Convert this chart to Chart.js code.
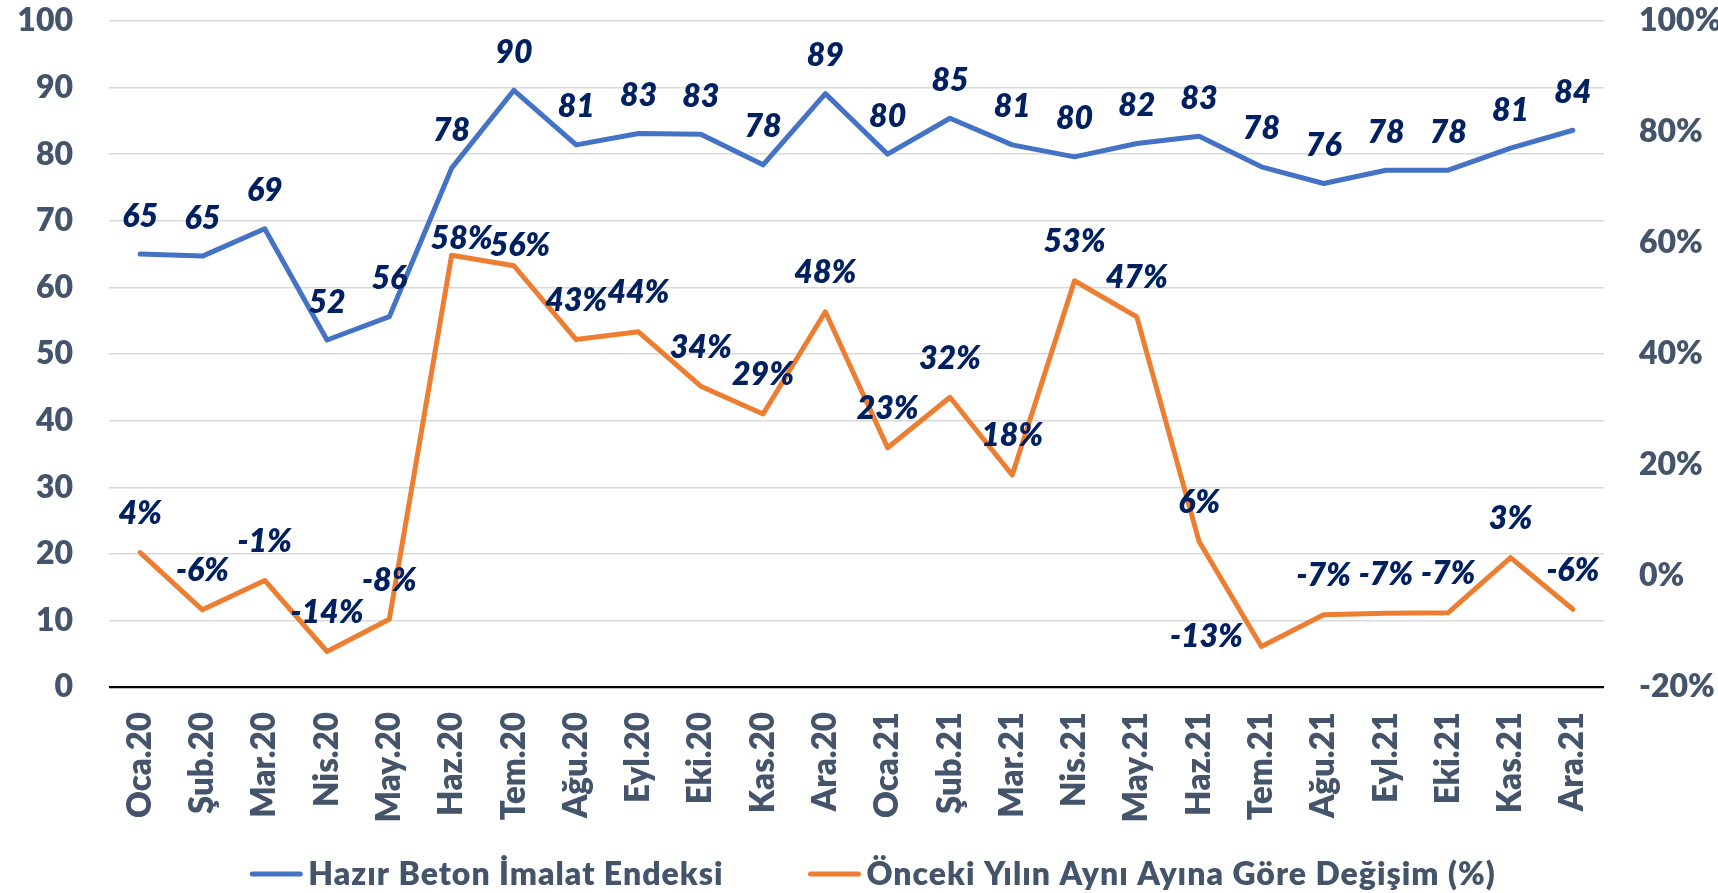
<!DOCTYPE html>
<html>
<head>
<meta charset="utf-8">
<script src="https://cdn.jsdelivr.net/npm/chart.js@4.4.1/dist/chart.umd.min.js"></script>
<style>
html,body{margin:0;padding:0;background:#ffffff;}
#wrap{width:1718px;height:893px;position:relative;}
</style>
</head>
<body>
<div id="wrap"><canvas id="c" width="1718" height="893"></canvas></div>
<script>
const categories = ['Oca.20','Şub.20','Mar.20','Nis.20','May.20','Haz.20','Tem.20','Ağu.20','Eyl.20','Eki.20','Kas.20','Ara.20',
                    'Oca.21','Şub.21','Mar.21','Nis.21','May.21','Haz.21','Tem.21','Ağu.21','Eyl.21','Eki.21','Kas.21','Ara.21'];
const indexValues = [65.0, 64.7, 68.8, 52.1, 55.6, 77.9, 89.6, 81.4, 83.1, 83.0, 78.4, 89.1,
                     80.0, 85.4, 81.4, 79.6, 81.6, 82.7, 78.1, 75.6, 77.6, 77.6, 80.9, 83.6];
const changeValues = [4.2, -6.1, -0.8, -13.6, -7.8, 57.8, 55.9, 42.6, 44.0, 34.2, 29.2, 47.6,
                      23.1, 32.2, 18.2, 53.2, 46.7, 6.2, -12.7, -7.0, -6.7, -6.6, 3.3, -6.0];
const seriesNames = ['Hazır Beton İmalat Endeksi', 'Önceki Yılın Aynı Ayına Göre Değişim (%)'];
const leftAxis = {min: 0, max: 100, step: 10};
const rightAxis = {min: -20, max: 100, step: 20};

const FONT = 'Lato, Calibri, "Open Sans", sans-serif';
const W = 800;

const valueLabels = {
  id: 'valueLabels',
  afterDatasetsDraw(chart, args, opts) {
    const ctx = chart.ctx;
    ctx.save();
    ctx.font = 'italic ' + W + ' 32px ' + FONT;
    ctx.fillStyle = '#002060';
    ctx.textAlign = 'center';
    ctx.textBaseline = 'alphabetic';
    chart.data.datasets.forEach((ds, di) => {
      const meta = chart.getDatasetMeta(di);
      meta.data.forEach((pt, i) => {
        const v = ds.data[i];
        const txt = Math.round(v) + (di === 1 ? '%' : '');
        const custom = opts.offsets[di] && opts.offsets[di][i];
        const off = custom || [0, opts.dy[di]];
        ctx.fillText(txt, pt.x + off[0], pt.y + off[1] + 11.5);
      });
    });
    ctx.restore();
  }
};

const bottomLegend = {
  id: 'bottomLegend',
  afterDraw(chart, args, opts) {
    const ctx = chart.ctx;
    ctx.save();
    ctx.font = W + ' 32px ' + FONT;
    ctx.letterSpacing = '1px';
    const items = chart.data.datasets.map(ds => ({text: ds.label, color: ds.borderColor, w: ctx.measureText(ds.label).width}));
    const lineW = 52, gap = 6, spacing = 85;
    const total = items.reduce((s, it) => s + lineW + gap + it.w, 0) + spacing * (items.length - 1);
    let x = opts.centerX - total / 2;
    const y = opts.y;
    items.forEach(it => {
      ctx.strokeStyle = it.color;
      ctx.lineWidth = 5;
      ctx.lineCap = 'round';
      ctx.beginPath();
      ctx.moveTo(x + 2, y);
      ctx.lineTo(x + lineW - 2, y);
      ctx.stroke();
      ctx.fillStyle = '#44546A';
      ctx.textAlign = 'left';
      ctx.textBaseline = 'alphabetic';
      ctx.fillText(it.text, x + lineW + gap, y + 11);
      x += lineW + gap + it.w + spacing;
    });
    ctx.restore();
  }
};

new Chart(document.getElementById('c'), {
  type: 'line',
  data: {
    labels: categories,
    datasets: [
      {label: seriesNames[0], data: indexValues, yAxisID: 'y', borderColor: '#4472C4', backgroundColor: '#4472C4',
       borderWidth: 5, pointRadius: 0, tension: 0, borderJoinStyle: 'round', borderCapStyle: 'round'},
      {label: seriesNames[1], data: changeValues, yAxisID: 'y1', borderColor: '#ED7D31', backgroundColor: '#ED7D31',
       borderWidth: 5, pointRadius: 0, tension: 0, borderJoinStyle: 'round', borderCapStyle: 'round'}
    ]
  },
  options: {
    responsive: false,
    animation: false,
    devicePixelRatio: 1,
    layout: {padding: {top: 21, left: 0, right: 0, bottom: 0}},
    plugins: {
      legend: {display: false},
      tooltip: {enabled: false},
      valueLabels: {dy: [-39, -40], offsets: {1: {5: [10, -18], 6: [6, -21], 18: [-55, -11]}}},
      bottomLegend: {centerX: 873, y: 874}
    },
    scales: {
      x: {
        type: 'category',
        offset: true,
        grid: {display: false, drawTicks: false},
        border: {display: false},
        ticks: {autoSkip: false, maxRotation: 90, minRotation: 90, padding: 25, color: '#44546A',
                font: {family: FONT, weight: W, size: 33}},
        afterFit(s) { s.height = 893 - 687; }
      },
      y: {
        position: 'left',
        min: leftAxis.min, max: leftAxis.max,
        grid: {drawTicks: true, tickLength: 36, tickColor: 'rgba(0,0,0,0)',
               color: c => (c.tick && c.tick.value === 0) ? '#000000' : '#D9D9D9',
               lineWidth: c => (c.tick && c.tick.value === 0) ? 2.2 : 1.4},
        border: {display: false},
        ticks: {stepSize: leftAxis.step, padding: 0, color: '#44546A',
                font: {family: FONT, weight: W, size: 32}},
        afterFit(s) { s.width = 109; }
      },
      y1: {
        position: 'right',
        min: rightAxis.min, max: rightAxis.max,
        grid: {drawOnChartArea: false, drawTicks: true, tickLength: 35, tickColor: 'rgba(0,0,0,0)'},
        border: {display: false},
        ticks: {stepSize: rightAxis.step, padding: 0, color: '#44546A',
                font: {family: FONT, weight: W, size: 32},
                callback: v => v + '%'},
        afterFit(s) { s.width = 1718 - 1604; }
      }
    }
  },
  plugins: [valueLabels, bottomLegend]
});
</script>
</body>
</html>
